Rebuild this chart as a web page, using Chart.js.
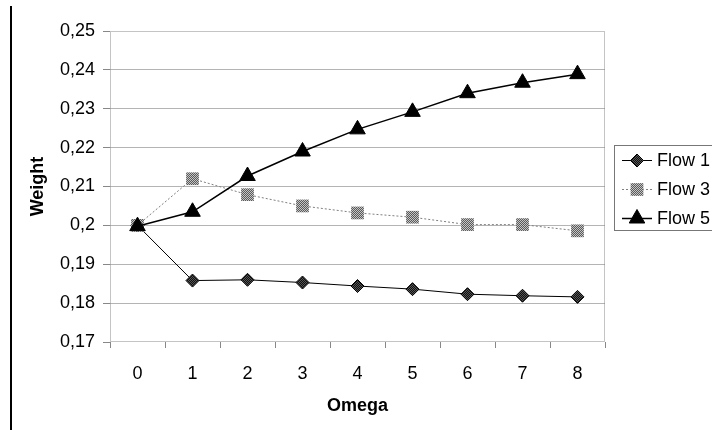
<!DOCTYPE html>
<html>
<head>
<meta charset="utf-8">
<script src="https://cdn.jsdelivr.net/npm/chart.js@4/dist/chart.umd.min.js"></script>
<style>
  html, body { margin: 0; padding: 0; background: #fff; }
  canvas { display: block; }
</style>
</head>
<body>
<canvas id="chart" width="712" height="430"></canvas>
<script>
// data
const omega = ["0", "1", "2", "3", "4", "5", "6", "7", "8"];
const flow1 = [0.2, 0.1858, 0.1860, 0.1853, 0.1844, 0.1836, 0.1823, 0.1819, 0.1816];
const flow3 = [0.2, 0.2120, 0.2079, 0.2050, 0.2032, 0.2021, 0.2002, 0.2002, 0.1986];
const flow5 = [0.1998, 0.2035, 0.2127, 0.2190, 0.2247, 0.2292, 0.2340, 0.2367, 0.2389];
const yMin = 0.17, yMax = 0.25, yStep = 0.01;

const FONT = "'Liberation Sans', Arial, sans-serif";

// dithered fill like the old office charts
function checker(a, b) {
  const c = document.createElement("canvas");
  c.width = 2; c.height = 2;
  const g = c.getContext("2d");
  g.fillStyle = a; g.fillRect(0, 0, 2, 2);
  g.fillStyle = b; g.fillRect(0, 0, 1, 1); g.fillRect(1, 1, 1, 1);
  return g.createPattern(c, "repeat");
}
const diamondFill = checker("#111", "#555");
const squareFill = checker("#5a5a5a", "#c4c4c4");

const frame = {
  id: "frame",
  beforeDraw(chart) {
    const ctx = chart.ctx;
    ctx.save();
    ctx.fillStyle = "#fff";
    ctx.fillRect(0, 0, chart.width, chart.height);
    // black rule on the left edge of the page
    ctx.fillStyle = "#000";
    ctx.fillRect(10, 6, 2, chart.height - 6);
    ctx.restore();
  },
  beforeDatasetsDraw(chart) {
    const a = chart.chartArea;
    const ctx = chart.ctx;
    ctx.save();
    ctx.strokeStyle = "#888";
    ctx.lineWidth = 1;
    ctx.setLineDash([1, 1]);
    ctx.strokeRect(Math.round(a.left) + 0.5, Math.round(a.top) + 0.5,
      Math.round(a.right - a.left) - 1, Math.round(a.bottom - a.top) - 1);
    ctx.restore();
  },
  afterDraw(chart) {
    const ctx = chart.ctx;
    ctx.save();
    ctx.strokeStyle = "#777";
    ctx.lineWidth = 1;
    ctx.strokeRect(614.5, 145.5, 130, 85);
    const rows = [160, 189, 218];
    chart.data.datasets.forEach((ds, i) => {
      const y = rows[i];
      ctx.save();
      ctx.strokeStyle = ds.borderColor;
      ctx.lineWidth = ds.borderWidth;
      ctx.setLineDash(ds.borderDash || []);
      ctx.beginPath();
      ctx.moveTo(622, y + 0.5);
      ctx.lineTo(652, y + 0.5);
      ctx.stroke();
      ctx.restore();
      ctx.fillStyle = ds.pointBackgroundColor;
      ctx.strokeStyle = ds.pointBorderColor;
      ctx.lineWidth = ds.pointBorderWidth;
      Chart.helpers.drawPoint(ctx, {
        pointStyle: ds.pointStyle, radius: ds.pointRadius,
        borderWidth: ds.pointBorderWidth, rotation: 0
      }, 637, y + 0.5);
      ctx.fillStyle = "#000";
      ctx.font = "18px " + FONT;
      ctx.textBaseline = "middle";
      ctx.fillText(ds.label, 657, y + 1);
    });
    ctx.restore();
  }
};

new Chart(document.getElementById("chart"), {
  type: "line",
  data: {
    labels: omega,
    datasets: [
      {
        label: "Flow 1", data: flow1, order: 2,
        borderColor: "#000", borderWidth: 1,
        pointStyle: "rectRot", pointRadius: 6.5,
        pointBackgroundColor: diamondFill, pointBorderColor: "#000", pointBorderWidth: 1
      },
      {
        label: "Flow 3", data: flow3, order: 1,
        borderColor: "#808080", borderWidth: 1, borderDash: [2, 2],
        pointStyle: "rect", pointRadius: 9,
        pointBackgroundColor: squareFill, pointBorderColor: "#888", pointBorderWidth: 0
      },
      {
        label: "Flow 5", data: flow5, order: 0,
        borderColor: "#000", borderWidth: 1.5,
        pointStyle: "triangle", pointRadius: 9,
        pointBackgroundColor: "#000", pointBorderColor: "#000", pointBorderWidth: 1
      }
    ]
  },
  options: {
    responsive: false,
    animation: false,
    devicePixelRatio: 1,
    layout: { padding: { left: 23, top: 31, right: 107, bottom: 9 } },
    plugins: { legend: { display: false }, tooltip: { enabled: false } },
    scales: {
      x: {
        offset: true,
        afterFit(s) { s.height = 79; },
        grid: { offset: true, drawOnChartArea: false, tickLength: 6, tickColor: "#888" },
        border: { display: false },
        ticks: { color: "#000", padding: 15, font: { family: FONT, size: 18 } },
        title: { display: true, text: "Omega", color: "#000", font: { family: FONT, size: 18, weight: "bold" } }
      },
      y: {
        min: yMin, max: yMax,
        afterFit(s) { s.width = 87; },
        grid: {
          color: (c) => (c.index === 0 || c.index === 8) ? "rgba(0,0,0,0)" : "#b4b4b4",
          tickLength: 7, tickColor: "#888"
        },
        border: { display: false },
        ticks: {
          stepSize: yStep, color: "#000", padding: 8,
          font: { family: FONT, size: 18 },
          callback: (v) => String(Number(v.toFixed(2))).replace(".", ",")
        },
        title: { display: true, text: "Weight", color: "#000", font: { family: FONT, size: 18, weight: "bold" } }
      }
    }
  },
  plugins: [frame]
});
</script>
</body>
</html>
